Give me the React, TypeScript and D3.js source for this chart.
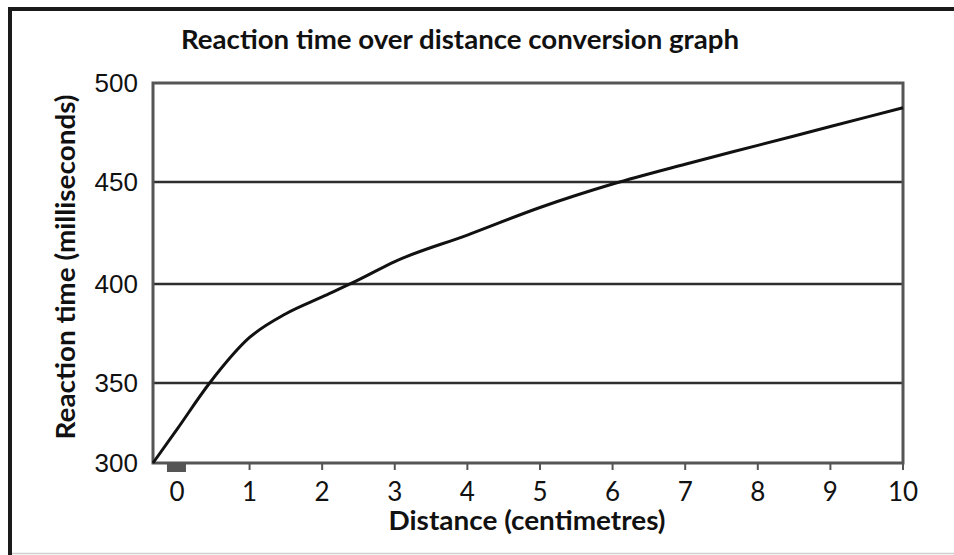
import React from "react";
import * as d3 from "d3";

const distances = [-0.33, 0, 0.45, 1, 1.5, 2, 2.5, 3, 4, 5, 6, 7, 8, 9, 10];
const reactionTimes = [300, 321, 350, 373, 385, 393.5, 402, 411, 424, 437.5, 449, 459, 468.5, 478, 487.5];
const xTicks = [1, 2, 3, 4, 5, 6, 7, 8, 9, 10];
const xLabels = [0, 1, 2, 3, 4, 5, 6, 7, 8, 9, 10];
const yTicks = [300, 350, 400, 450, 500];
const gridValues = [350, 400, 450];

const W = 954;
const H = 555;

export default function App() {
  const x = d3.scaleLinear().domain([-0.33, 10]).range([153, 903]);
  const y = d3.scaleLinear().domain(yTicks).range([463, 383, 284, 182, 83]);
  const pts = distances.map((d, i) => [d, reactionTimes[i]] as [number, number]);
  const line = d3
    .line<[number, number]>()
    .x((d) => x(d[0]))
    .y((d) => y(d[1]))
    .curve(d3.curveMonotoneX);

  const x0 = x(-0.33);
  const x1 = x(10);
  const yTop = y(500);
  const yBot = y(300);
  const axisColor = "#555";
  const gridColor = "#2e2e2e";
  const font = "Lato, 'Open Sans', sans-serif";

  return (
    <svg
      width={W}
      height={H}
      style={{ position: "fixed", left: 0, top: 0, background: "#fff" }}
    >
      <rect x={0} y={0} width={W} height={H} fill="#fff" />
      {/* outer frame */}
      <line x1={8} x2={W} y1={9} y2={9} stroke="#1a1a1a" strokeWidth={4} />
      <line x1={10} x2={10} y1={7} y2={H} stroke="#1a1a1a" strokeWidth={4} />
      <line x1={12} x2={W} y1={553.5} y2={553.5} stroke="#d0d0d0" strokeWidth={1.5} />

      <text
        x={460}
        y={49}
        textAnchor="middle"
        fontFamily={font}
        fontWeight="bold"
        fontSize={26}
        textLength={558}
        lengthAdjust="spacingAndGlyphs"
        fill="#111"
      >
        Reaction time over distance conversion graph
      </text>

      {/* gridlines */}
      {gridValues.map((v) => (
        <line key={v} x1={x0} x2={x1} y1={y(v)} y2={y(v)} stroke={gridColor} strokeWidth={2.5} />
      ))}

      {/* plot frame */}
      <rect
        x={x0}
        y={yTop}
        width={x1 - x0}
        height={yBot - yTop}
        fill="none"
        stroke={axisColor}
        strokeWidth={3}
      />

      {/* x ticks */}
      {xTicks.map((t) => (
        <line key={t} x1={x(t)} x2={x(t)} y1={yBot} y2={yBot + 7} stroke={axisColor} strokeWidth={2} />
      ))}
      <rect x={x(0) - 10} y={yBot + 1} width={19} height={8} fill="#555" />

      {/* curve */}
      <path d={line(pts) || ""} fill="none" stroke="#111" strokeWidth={3} />

      {/* y tick labels */}
      {yTicks.map((v) => (
        <text
          key={v}
          x={138}
          y={y(v)}
          dy="0.35em"
          textAnchor="end"
          fontFamily="'Liberation Sans', Arial, sans-serif"
          fontSize={26}
          fill="#111"
        >
          {v}
        </text>
      ))}

      {/* x tick labels */}
      {xLabels.map((v) => (
        <text
          key={v}
          x={x(v)}
          y={492}
          dy="0.35em"
          textAnchor="middle"
          fontFamily={font}
          fontSize={26}
          fill="#111"
        >
          {v}
        </text>
      ))}

      <text
        x={527}
        y={521}
        dy="0.35em"
        textAnchor="middle"
        fontFamily={font}
        fontWeight="bold"
        fontSize={26}
        textLength={277}
        lengthAdjust="spacingAndGlyphs"
        fill="#111"
      >
        Distance (centimetres)
      </text>

      <text
        transform={`translate(66,267) rotate(-90)`}
        dy="0.35em"
        textAnchor="middle"
        fontFamily={font}
        fontWeight="bold"
        fontSize={26}
        textLength={345}
        lengthAdjust="spacingAndGlyphs"
        fill="#111"
      >
        Reaction time (milliseconds)
      </text>
    </svg>
  );
}
